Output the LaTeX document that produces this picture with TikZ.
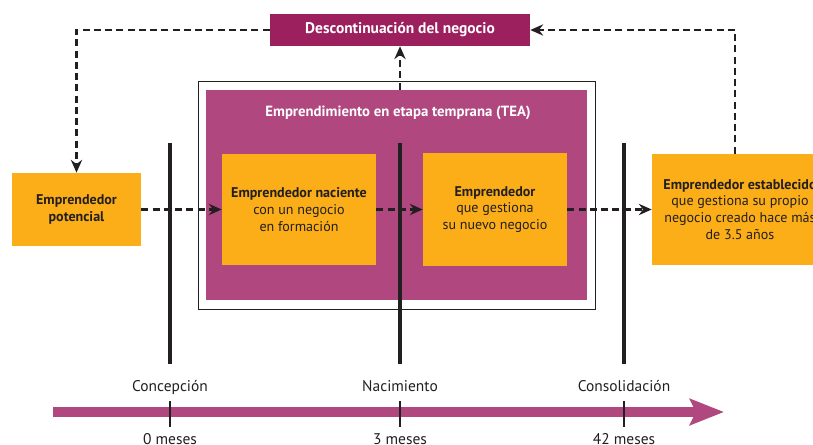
\documentclass[tikz,border=0pt]{standalone}
\usepackage{fontspec}
\setmainfont{PT Sans}
\usepackage{xcolor}
\usepackage{tikz}
\usetikzlibrary{arrows.meta}
\definecolor{vino}{HTML}{9C1F5E}
\definecolor{rosa}{HTML}{B1477F}
\definecolor{naranja}{HTML}{FBAE17}
\definecolor{tinta}{HTML}{231F20}
\tikzset{
  box/.style={align=center, inner sep=2pt, text=tinta, font=\fontsize{10}{12}\selectfont},
  stage/.style={box, fill=naranja},
  endbox/.style={box, fill=vino, text=white, font=\fontsize{11}{13}\selectfont\bfseries},
  dasharrow/.style={-{Stealth[length=3.2mm, width=2.8mm]}, line width=1.6pt, dash pattern=on 5pt off 3pt, draw=tinta},
  milestone/.style={line width=2.8pt, draw=tinta},
  ticmark/.style={line width=1pt, draw=tinta},
  mlabel/.style={text=tinta, inner sep=0pt, font=\fontsize{11}{13}\selectfont},
  timeline/.style={line width=7pt, draw=rosa, -{Stealth[length=0.85cm, width=0.65cm, inset=0.15cm]}}
}

\begin{document}
\begin{tikzpicture}[x=0.025cm, y=-0.025cm]
    \useasboundingbox (0,0) rectangle (813,445);
    \clip (0,0) rectangle (813,445);

    % TEA block
    \node[draw=tinta, line width=0.6pt, minimum width=9.925cm, minimum height=5.7cm] (frame) at (396.5,195) {};
    \node[fill=rosa, minimum width=9.525cm, minimum height=5.25cm] (tea) at (396.5,195) {};
    \node[box, text=white, font=\fontsize{10.5}{12}\selectfont\bfseries] (tealabel) at (398,113) {Emprendimiento en etapa temprana (TEA)};

    % Milestones
    \foreach \x in {170,400,624}
      \draw[milestone] (\x,143) -- (\x,364);

    % Nodes
    \node[endbox, minimum width=6.5cm, minimum height=0.8cm] (desc) at (400,30) {Descontinuación del negocio};
    \node[stage, minimum width=3.225cm, minimum height=1.825cm] (potencial) at (76.5,209.5) {\textbf{Emprendedor}\\\textbf{potencial}};
    \node[stage, minimum width=3.85cm, minimum height=2.775cm] (naciente) at (299,209.5) {\textbf{Emprendedor naciente}\\con un negocio\\en formación};
    \node[stage, minimum width=3.6cm, minimum height=2.8cm] (nuevo) at (495,209.5) {\textbf{Emprendedor}\\que gestiona\\su nuevo negocio};
    \node[stage, minimum width=4.4cm, minimum height=2.775cm] (establecido) at (740,209.5) {\textbf{Emprendedor establecido}\\que gestiona su propio\\negocio creado hace más\\de 3.5 años};

    % Timeline
    \coordinate (tstart) at (53,412);
    \coordinate (tend) at (724,412);
    \draw[timeline] (tstart) -- (tend);
    \foreach \x/\hito/\mes [count=\i] in {170/Concepción/0 meses, 400/Nacimiento/3 meses, 624/Consolidación/42 meses} {
      \node[mlabel, anchor=base] (hito\i) at (\x,391) {\hito};
      \node[mlabel, anchor=base] (mes\i) at (\x,444) {\mes};
      \draw[ticmark] (\x,401) -- (\x,427);
    }

    % Arrows
    \draw[dasharrow] (desc.west) -| (potencial.north);
    \draw[dasharrow] ([xshift=-0.125cm]establecido.north) |- (desc.east);
    \draw[dasharrow] (tea.north -| desc.south) -- (desc.south);
    \draw[dasharrow] (potencial.east) -- (naciente.west);
    \draw[dasharrow] (naciente.east) -- (nuevo.west);
    \draw[dasharrow] (nuevo.east) -- (establecido.west);
\end{tikzpicture}
\end{document}
